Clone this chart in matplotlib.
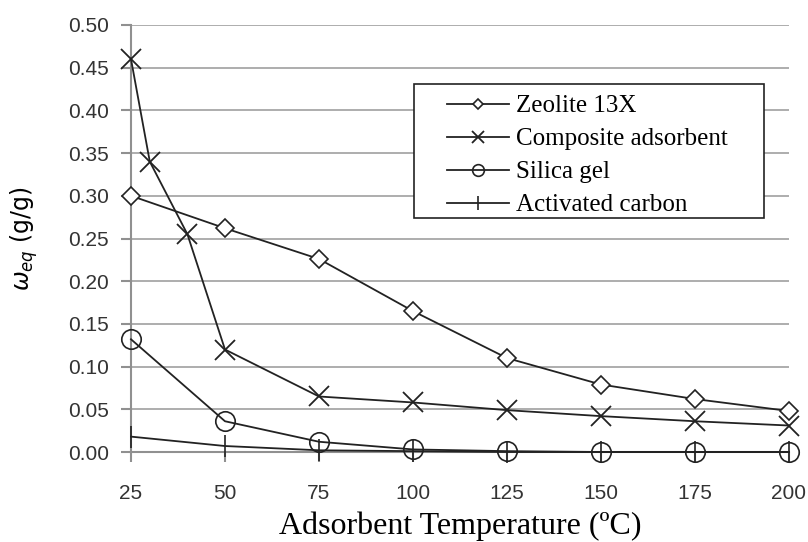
import matplotlib.pyplot as plt
from matplotlib.patches import Rectangle

# Equilibrium adsorption vs adsorbent temperature
temps = [25, 50, 75, 100, 125, 150, 175, 200]
zeolite = [0.300, 0.262, 0.226, 0.165, 0.110, 0.079, 0.062, 0.048]
comp_temps = [25, 30, 40, 50, 75, 100, 125, 150, 175, 200]
composite = [0.460, 0.340, 0.255, 0.120, 0.065, 0.058, 0.049, 0.042, 0.036, 0.031]
silica = [0.132, 0.036, 0.012, 0.003, 0.001, 0.0, 0.0, 0.0]
carbon = [0.018, 0.007, 0.002, 0.001, 0.0, 0.0, 0.0, 0.0]

W, H = 808, 542
fig = plt.figure(figsize=(W / 100, H / 100), dpi=100)
x0, x1, y0, y1 = 131, 789, 452, 25
ax = fig.add_axes([x0 / W, 1 - y0 / H, (x1 - x0) / W, (y0 - y1) / H])

ax.plot(temps, zeolite, color='#222222', lw=1.3, marker='D', ms=9, mfc='white', mew=1.2,
        label='Zeolite 13X', clip_on=False, zorder=3)
ax.plot(comp_temps, composite, color='#222222', lw=1.3, marker='x', ms=15, mew=1.3,
        label='Composite adsorbent', clip_on=False, zorder=3)
ax.plot(temps, silica, color='#222222', lw=1.3, marker='o', ms=14, mfc='none', mew=1.2,
        label='Silica gel', clip_on=False, zorder=3)
ax.plot(temps, carbon, color='#222222', lw=1.3, marker='|', ms=16, mew=1.2,
        label='Activated carbon', clip_on=False, zorder=3)

ax.set_xlim(25, 200)
ax.set_ylim(0, 0.5)
ax.set_xticks(temps)
ax.set_yticks([i * 0.05 for i in range(11)])
ax.set_yticklabels(['%.2f' % (i * 0.05) for i in range(11)])
ax.grid(axis='y', color='#a0a0a0', lw=1.2)
ax.set_axisbelow(True)

for s in ['top', 'right']:
    ax.spines[s].set_visible(False)
for s in ['left', 'bottom']:
    ax.spines[s].set_color('#909090')
    ax.spines[s].set_linewidth(1.5)
ax.tick_params(axis='both', colors='#909090', width=1.5, length=7, labelcolor='#333333',
               labelsize=15)
ax.tick_params(axis='x', pad=16)
ax.tick_params(axis='y', pad=9)
for lab in ax.get_xticklabels() + ax.get_yticklabels():
    lab.set_family('Liberation Sans')

ax.set_xlabel('Adsorbent Temperature (ºC)', family='Liberation Serif', fontsize=23,
              labelpad=6)
ax.set_ylabel(r'$\omega_{eq}$ (g/g)', fontsize=17, labelpad=20)

# legend box drawn by hand so the padding matches
bx0, bx1, by0, by1 = 414, 764, 84, 218
ax.add_patch(Rectangle(((bx0 - x0) / (x1 - x0), (y0 - by1) / (y0 - y1)),
                       (bx1 - bx0) / (x1 - x0), (by1 - by0) / (y0 - y1),
                       transform=ax.transAxes, fc='white', ec='#222222', lw=1.2,
                       zorder=4, clip_on=False))
leg = ax.legend(loc='upper left',
                bbox_to_anchor=((bx0 + 24 - x0) / (x1 - x0), (y0 - by0 - 2) / (y0 - y1)),
                prop={'family': 'Liberation Serif', 'size': 18}, frameon=False,
                handlelength=2.5, handletextpad=0.25, labelspacing=0.42,
                markerscale=0.6, borderpad=0.35, borderaxespad=0)
leg.set_zorder(5)

fig.savefig('out.png', dpi=100)
